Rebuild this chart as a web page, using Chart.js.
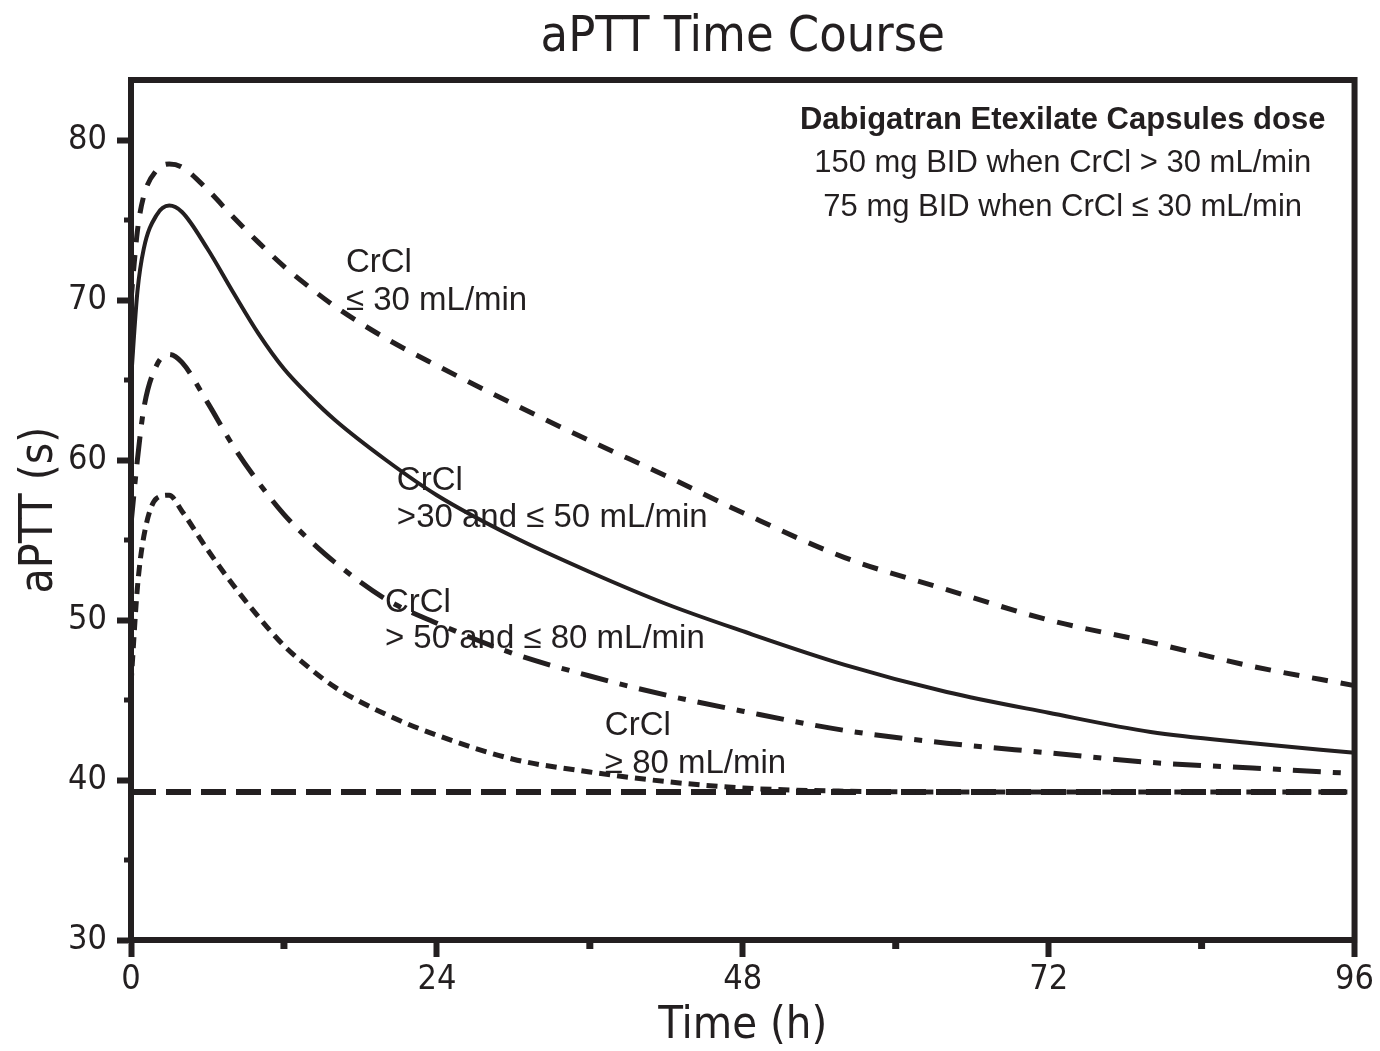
<!DOCTYPE html>
<html>
<head>
<meta charset="utf-8">
<script src="https://cdn.jsdelivr.net/npm/chart.js@4.4.1/dist/chart.umd.min.js"></script>
<style>
html,body{margin:0;padding:0;background:#ffffff;}
#wrap{width:1380px;height:1051px;}
</style>
</head>
<body>
<div id="wrap"><canvas id="c" width="1380" height="1051"></canvas></div>
<script>
// ---- data ----
const hours      = [0, 0.5, 1, 2, 3, 4, 6, 8, 10, 12, 14, 16, 20, 24, 30, 36, 42, 48, 56, 64, 72, 80, 88, 96];
const crclLe30   = [70, 74.3, 76.5, 78.1, 78.5, 78.3, 76.9, 75.2, 73.6, 72.1, 70.8, 69.6, 67.6, 65.9, 63.5, 61.2, 59.0, 56.7, 53.9, 51.9, 50.0, 48.6, 47.1, 45.9];
const crcl30to50 = [65, 70.5, 73.2, 75.3, 75.9, 75.5, 73.2, 70.5, 67.9, 65.7, 64.0, 62.5, 60.0, 57.8, 55.2, 53.0, 51.0, 49.3, 47.2, 45.5, 44.2, 43.0, 42.3, 41.7];
const crcl50to80 = [56, 60, 63.2, 65.9, 66.6, 66.1, 63.6, 60.9, 58.6, 56.6, 55.0, 53.6, 51.3, 49.8, 47.9, 46.5, 45.3, 44.3, 43.1, 42.3, 41.7, 41.1, 40.75, 40.4];
const crclGe80   = [46, 52, 55.2, 57.6, 57.8, 56.8, 54.4, 52.2, 50.2, 48.4, 47.0, 45.8, 44.1, 42.8, 41.3, 40.5, 39.9, 39.5, 39.3, 39.25, 39.25, 39.25, 39.25, 39.25];
const baselineHours  = [0, 96];
const baselineValues = [39.25, 39.25];

const yTickValues      = [30, 40, 50, 60, 70, 80];
const xTickValues      = [0, 24, 48, 72, 96];
const yMinorTickValues = [35, 45, 55, 65, 75];
const xMinorTickValues = [12, 36, 60, 84];

const titleText  = 'aPTT Time Course';
const xTitleText = 'Time (h)';
const yTitleText = 'aPTT (s)';
const headerLines = ['Dabigatran Etexilate Capsules dose', '150 mg BID when CrCl > 30 mL/min', '75 mg BID when CrCl \u2264 30 mL/min'];
const curveLabels = [
  {lines: ['CrCl', '\u2264 30 mL/min'], h: 16.86, v: [71.75, 69.4]},
  {lines: ['CrCl', '>30 and \u2264 50 mL/min'], h: 20.86, v: [58.1, 55.8]},
  {lines: ['CrCl', '> 50 and \u2264 80 mL/min'], h: 19.92, v: [50.5, 48.25]},
  {lines: ['CrCl', '\u2265 80 mL/min'], h: 37.18, v: [42.8, 40.45]}
];

// ---- chart ----
const INK = '#231f20';
const NARROW = "'Liberation Sans Narrow', 'DejaVu Sans Condensed', 'Liberation Sans', sans-serif";
const REGULAR = "'Liberation Sans', Arial, sans-serif";
Chart.defaults.color = INK;
Chart.defaults.font.family = NARROW;

function pts(xs, ys) { return xs.map((x, i) => ({x: x, y: ys[i]})); }

const lineBase = {fill: false, pointRadius: 0, borderColor: INK, cubicInterpolationMode: 'monotone', tension: 0.4, borderCapStyle: 'butt'};

const framePlugin = {
  id: 'frameAndText',
  afterDraw(chart) {
    const {ctx, chartArea: a, scales} = chart;
    const xs = scales.x, ys = scales.y;
    ctx.save();
    ctx.strokeStyle = INK;
    ctx.lineCap = 'butt';
    // top and right frame
    ctx.lineWidth = 6;
    ctx.beginPath();
    ctx.moveTo(a.left - 3, a.top);
    ctx.lineTo(a.right, a.top);
    ctx.lineTo(a.right, a.bottom + 3);
    ctx.stroke();
    // minor ticks
    ctx.lineWidth = 5;
    yMinorTickValues.forEach(v => {
      const y = ys.getPixelForValue(v);
      ctx.beginPath(); ctx.moveTo(a.left, y); ctx.lineTo(a.left - 7, y); ctx.stroke();
    });
    ctx.lineWidth = 7;
    xMinorTickValues.forEach(h => {
      const x = xs.getPixelForValue(h);
      ctx.beginPath(); ctx.moveTo(x, a.bottom); ctx.lineTo(x, a.bottom + 9); ctx.stroke();
    });
    // header text
    ctx.fillStyle = INK;
    ctx.textAlign = 'center';
    ctx.textBaseline = 'alphabetic';
    const hx = xs.getPixelForValue(73.1);
    ctx.font = 'bold 31px ' + REGULAR;
    ctx.fillText(headerLines[0], hx, ys.getPixelForValue(80.69));
    ctx.font = '31px ' + REGULAR;
    ctx.fillText(headerLines[1], hx, ys.getPixelForValue(78.0));
    ctx.fillText(headerLines[2], hx, ys.getPixelForValue(75.25));
    // curve labels
    ctx.textAlign = 'left';
    ctx.font = '33px ' + REGULAR;
    curveLabels.forEach(l => {
      const x = xs.getPixelForValue(l.h);
      l.lines.forEach((t, i) => ctx.fillText(t, x, ys.getPixelForValue(l.v[i])));
    });
    ctx.restore();
  }
};

new Chart(document.getElementById('c'), {
  type: 'line',
  data: {
    datasets: [
      Object.assign({}, lineBase, {label: 'CrCl \u2264 30 mL/min', data: pts(hours, crclLe30), borderWidth: 5, borderDash: [16, 13]}),
      Object.assign({}, lineBase, {label: 'CrCl >30 and \u2264 50 mL/min', data: pts(hours, crcl30to50), borderWidth: 4}),
      Object.assign({}, lineBase, {label: 'CrCl > 50 and \u2264 80 mL/min', data: pts(hours, crcl50to80), borderWidth: 5, borderDash: [28, 12, 8, 12]}),
      Object.assign({}, lineBase, {label: 'CrCl \u2265 80 mL/min', data: pts(hours, crclGe80), borderWidth: 5, borderDash: [11, 7]}),
      Object.assign({}, lineBase, {label: 'Baseline', data: pts(baselineHours, baselineValues), borderWidth: 6, borderDash: [25, 10], tension: 0})
    ]
  },
  options: {
    responsive: false,
    animation: false,
    devicePixelRatio: 1,
    layout: {padding: {left: 0, right: 25, top: 0, bottom: 0}},
    plugins: {
      legend: {display: false},
      tooltip: {enabled: false},
      title: {
        display: true, text: titleText, color: INK, fullSize: false,
        font: {family: NARROW, size: 50, weight: 'normal', lineHeight: 1},
        padding: {top: 13, bottom: 17}
      }
    },
    scales: {
      x: {
        type: 'linear', min: 0, max: 96,
        afterBuildTicks: s => { s.ticks = xTickValues.map(v => ({value: v})); },
        afterFit: s => { s.height = 111; },
        ticks: {font: {family: NARROW, size: 34, lineHeight: 1}, color: INK, padding: 6, maxRotation: 0, autoSkip: false},
        grid: {drawOnChartArea: false, drawTicks: true, tickLength: 17, tickWidth: 6, tickColor: INK},
        border: {display: true, color: INK, width: 6},
        title: {display: true, text: xTitleText, color: INK, font: {family: NARROW, size: 45, lineHeight: 1}, padding: {top: 0, bottom: 2}}
      },
      y: {
        type: 'linear', min: 30, max: 83.75,
        afterBuildTicks: s => { s.ticks = yTickValues.map(v => ({value: v})); },
        afterFit: s => { s.width = 131; },
        ticks: {font: {family: NARROW, size: 34, lineHeight: 1}, color: INK, padding: 10, autoSkip: false},
        grid: {drawOnChartArea: false, drawTicks: true, tickLength: 14, tickWidth: 6, tickColor: INK},
        border: {display: true, color: INK, width: 6},
        title: {display: true, text: yTitleText, color: INK, font: {family: NARROW, size: 46, lineHeight: 1}, padding: {top: 17, bottom: 0}}
      }
    }
  },
  plugins: [framePlugin]
});
</script>
</body>
</html>
